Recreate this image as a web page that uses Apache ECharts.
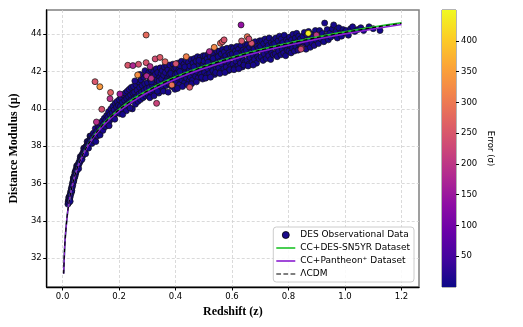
<!DOCTYPE html>
<html>
<head>
<meta charset="utf-8">
<script src="https://cdn.jsdelivr.net/npm/echarts@6/dist/echarts.min.js"></script>
<style>
  html, body { margin: 0; padding: 0; background: #fff; }
  #main { width: 523px; height: 327px; }
</style>
</head>
<body>
<div id="main"></div>
<script>
// DES points: [redshift z, distance modulus mu, error]
const desLowZ = [
  [0.019,34.9,5],[0.02,35.02,7],[0.021,35.1,4],[0.022,34.98,8],[0.022,35.25,6],[0.023,35.15,5],[0.024,35.3,9],
  [0.025,35.12,6],[0.026,35.38,4],[0.027,35.28,7],[0.027,35.05,5],[0.028,35.52,8],[0.029,35.42,6],[0.03,35.62,5],
  [0.031,35.72,9],[0.032,35.55,4],[0.033,35.85,7],[0.033,35.62,6],[0.034,35.78,5],[0.035,36.0,8],[0.036,35.9,6],
  [0.037,36.12,4],[0.038,36.05,7],[0.038,36.3,5],[0.039,36.25,9],[0.04,36.15,6],[0.041,36.38,5],[0.042,36.3,8],
  [0.043,36.48,4],[0.044,36.38,7],[0.044,36.62,6],[0.045,36.6,5],[0.046,36.5,9],[0.047,36.72,6],[0.048,36.62,4],
  [0.049,36.8,7],[0.05,36.7,5],[0.05,36.95,8],[0.052,36.92,6],[0.053,36.85,5],[0.055,37.02,9],[0.056,36.95,4],
  [0.057,36.8,7],[0.058,37.15,6],[0.06,37.1,5],[0.062,37.32,8],[0.063,37.45,6],[0.064,37.22,4],[0.066,37.42,7],
  [0.068,37.48,5],[0.069,37.3,9],[0.07,37.58,6],[0.072,37.5,5],[0.074,37.72,8],[0.075,37.9,6],[0.076,37.62,4],
  [0.078,37.88,7],[0.08,37.78,5],[0.082,37.6,9],[0.083,37.98,6],[0.085,38.02,5],[0.087,38.25,8],[0.088,38.12,6],
  [0.09,38.05,4],[0.092,37.9,7],[0.093,38.28,5],[0.095,38.2,9],[0.097,38.55,6],[0.098,38.42,5],[0.1,38.3,8]
];

const desBody = [
  [0.101,38.55,8],[0.104,38.15,5],[0.106,38.45,12],[0.109,38.7,6],[0.111,38.3,9],[0.114,38.6,4],[0.116,38.95,14],
  [0.118,38.25,7],[0.121,38.8,5],[0.123,38.55,10],[0.126,39.05,6],[0.128,38.7,8],[0.131,39.0,11],[0.133,38.6,5],
  [0.136,39.25,7],[0.138,38.95,9],[0.141,39.35,6],[0.143,38.85,12],[0.146,39.2,4],[0.148,39.5,8],
  [0.151,39.05,6],[0.153,39.4,9],[0.156,39.65,5],[0.158,39.2,10],[0.161,39.55,7],[0.163,39.85,4],[0.166,39.35,8],
  [0.168,39.7,6],[0.171,40.0,11],[0.173,39.5,5],[0.176,39.8,9],[0.178,40.15,7],[0.181,39.6,6],[0.183,39.95,12],
  [0.186,40.3,5],[0.188,39.75,8],[0.191,40.1,6],[0.193,40.4,9],[0.196,39.85,4],[0.198,40.2,7],[0.165,39.1,13],[0.185,39.45,10],
  [0.201,40.5,6],[0.203,39.75,8],[0.205,40.15,5],[0.208,40.6,10],[0.21,40.0,7],[0.212,40.35,4],[0.215,40.75,9],
  [0.217,40.1,6],[0.22,40.45,11],[0.222,40.85,5],[0.224,40.2,8],[0.227,40.55,6],[0.229,40.95,9],[0.231,40.3,7],
  [0.234,40.65,5],[0.236,41.05,12],[0.238,40.4,6],[0.241,40.75,8],[0.243,41.15,5],[0.245,40.5,9],[0.247,40.0,7],
  [0.249,40.85,6],[0.226,39.9,10],[0.213,39.7,8],[0.239,40.05,11],
  [0.251,41.2,7],[0.253,40.55,5],[0.255,40.9,9],[0.258,40.25,6],[0.26,41.3,8],[0.262,40.65,4],[0.264,41.0,10],
  [0.267,40.4,7],[0.269,41.45,6],[0.271,40.8,9],[0.273,41.15,5],[0.276,40.5,8],[0.278,41.55,6],[0.28,40.9,11],
  [0.282,41.25,7],[0.285,40.6,5],[0.287,41.7,9],[0.289,41.0,6],[0.291,41.35,8],[0.294,40.7,5],[0.296,41.8,10],
  [0.298,41.1,7],[0.256,41.5,12],[0.274,41.85,9],[0.292,42.05,11],
  [0.301,41.4,6],[0.303,40.75,8],[0.305,41.95,5],[0.308,41.15,9],[0.31,41.6,7],[0.312,40.9,4],[0.314,42.1,10],
  [0.317,41.3,6],[0.319,41.75,8],[0.321,41.0,5],[0.323,42.0,9],[0.326,41.45,7],[0.328,41.85,6],[0.33,41.1,11],
  [0.332,42.15,5],[0.335,41.55,8],[0.337,41.95,6],[0.339,41.2,9],[0.341,40.85,7],[0.344,41.7,5],[0.346,42.2,10],
  [0.348,41.35,6],[0.309,40.6,8],[0.324,40.7,12],[0.336,40.95,7],[0.315,41.45,5],[0.342,41.5,9],[0.349,41.9,7],
  [0.351,41.6,6],[0.353,42.05,8],[0.355,41.1,5],[0.358,41.8,9],[0.36,42.25,7],[0.362,41.4,4],[0.364,41.95,10],
  [0.367,41.25,6],[0.369,42.3,8],[0.371,41.65,5],[0.373,42.1,9],[0.376,41.35,7],[0.378,41.85,6],[0.38,42.35,11],
  [0.382,41.5,5],[0.385,42.0,8],[0.387,41.2,6],[0.389,41.75,9],[0.391,42.4,7],[0.394,41.6,5],[0.396,42.15,10],
  [0.398,41.05,6],[0.357,40.95,8],[0.374,40.9,9],[0.392,41.3,7],[0.366,41.5,5],[0.383,41.9,6],[0.399,41.85,8],
  [0.401,42.2,6],[0.403,41.45,8],[0.405,41.9,5],[0.408,42.45,9],[0.41,41.65,7],[0.412,42.1,4],[0.414,41.3,10],
  [0.417,42.3,6],[0.419,41.8,8],[0.421,42.55,5],[0.423,41.55,9],[0.426,42.05,7],[0.428,41.75,6],[0.43,42.4,11],
  [0.432,41.4,5],[0.435,41.95,8],[0.437,42.6,6],[0.439,41.65,9],[0.441,42.2,7],[0.444,41.85,5],[0.446,42.5,10],
  [0.448,41.5,6],[0.407,41.1,8],[0.425,41.2,9],[0.442,41.3,7],[0.415,42.0,6],[0.433,42.25,5],[0.449,42.1,8],
  [0.451,42.3,6],[0.453,41.7,8],[0.455,42.65,5],[0.458,42.05,9],[0.46,41.55,7],[0.462,42.45,4],[0.464,41.9,10],
  [0.467,42.7,6],[0.469,42.2,8],[0.471,41.75,5],[0.473,42.55,9],[0.476,42.0,7],[0.478,42.8,6],[0.48,41.65,11],
  [0.482,42.35,5],[0.485,42.1,8],[0.487,42.75,6],[0.489,41.85,9],[0.491,42.5,7],[0.494,42.2,5],[0.496,41.6,10],
  [0.498,42.85,6],[0.457,41.35,8],[0.474,41.45,9],[0.492,41.7,7],[0.465,42.25,6],[0.483,42.6,5],[0.499,42.4,8],
  [0.501,42.55,6],[0.503,41.95,8],[0.505,42.85,5],[0.508,42.3,9],[0.51,41.8,7],[0.512,42.7,4],[0.514,42.15,10],
  [0.517,42.95,6],[0.519,42.45,8],[0.521,41.9,5],[0.523,42.8,9],[0.526,42.25,7],[0.528,43.05,6],[0.53,42.6,11],
  [0.532,42.05,5],[0.535,42.9,8],[0.537,42.4,6],[0.539,41.85,9],[0.541,42.75,7],[0.544,42.2,5],[0.546,43.1,10],
  [0.548,42.55,6],[0.507,41.65,8],[0.524,41.7,9],[0.542,41.95,7],[0.515,42.5,6],[0.533,42.7,5],[0.549,42.35,8],
  [0.551,42.8,6],[0.553,42.2,8],[0.555,43.1,5],[0.558,42.55,9],[0.56,42.0,7],[0.562,42.95,4],[0.564,42.4,10],
  [0.567,43.2,6],[0.569,42.7,8],[0.571,42.15,5],[0.573,43.05,9],[0.576,42.5,7],[0.578,42.85,6],[0.58,42.25,11],
  [0.582,43.25,5],[0.585,42.65,8],[0.587,42.05,6],[0.589,43.0,9],[0.591,42.45,7],[0.594,42.9,5],[0.596,42.3,10],
  [0.598,43.3,6],[0.557,41.9,8],[0.575,41.95,9],[0.592,42.1,7],[0.566,42.6,6],
  [0.601,42.95,6],[0.603,42.4,8],[0.605,43.25,5],[0.608,42.75,9],[0.61,42.2,7],[0.612,43.1,4],[0.614,42.55,10],
  [0.617,43.35,6],[0.619,42.85,8],[0.621,42.3,5],[0.623,43.2,9],[0.626,42.65,7],[0.628,43.0,6],[0.63,42.45,11],
  [0.632,43.4,5],[0.635,42.8,8],[0.637,42.25,6],[0.639,43.15,9],[0.641,42.6,7],[0.644,43.05,5],[0.646,42.5,10],
  [0.648,43.45,6],[0.607,42.1,8],[0.624,42.15,9],[0.642,42.35,7],[0.616,42.95,6],
  [0.651,43.15,6],[0.653,42.6,8],[0.655,43.45,5],[0.658,42.9,9],[0.66,42.4,7],[0.662,43.3,4],[0.664,42.75,10],
  [0.667,43.55,6],[0.669,43.05,8],[0.671,42.5,5],[0.673,43.4,9],[0.676,42.85,7],[0.678,43.2,6],[0.68,42.65,11],
  [0.682,43.6,5],[0.685,43.0,8],[0.687,42.45,6],[0.689,43.35,9],[0.691,42.8,7],[0.694,43.25,5],[0.696,42.7,10],
  [0.698,43.65,6],[0.657,42.3,8],[0.675,42.35,9],
  [0.701,43.35,6],[0.703,42.8,8],[0.705,43.65,5],[0.708,43.1,9],[0.71,42.6,7],[0.712,43.5,4],[0.714,42.95,10],
  [0.717,43.75,6],[0.719,43.25,8],[0.721,42.7,5],[0.723,43.6,9],[0.726,43.05,7],[0.728,43.4,6],[0.73,42.85,11],
  [0.732,43.8,5],[0.735,43.2,8],[0.737,42.65,6],[0.739,43.55,9],[0.741,43.0,7],[0.744,43.45,5],[0.746,42.9,10],
  [0.748,43.7,6],
  [0.751,43.5,6],[0.753,42.95,8],[0.755,43.8,5],[0.758,43.25,9],[0.76,42.8,7],[0.763,43.65,4],[0.765,43.1,10],
  [0.768,43.9,6],[0.77,43.4,8],[0.773,42.9,5],[0.775,43.75,9],[0.778,43.2,7],[0.78,43.55,6],[0.783,43.0,11],
  [0.785,43.95,5],[0.788,43.35,8],[0.79,42.85,6],[0.793,43.7,9],[0.795,43.15,7],[0.798,43.6,5],
  [0.801,43.1,6],[0.804,43.85,8],[0.806,43.4,5],[0.809,43.0,9],[0.811,43.7,7],[0.814,43.25,4],[0.816,44.0,10],
  [0.819,43.55,6],[0.821,43.1,8],[0.824,43.8,5],[0.826,43.35,9],[0.829,44.05,7],[0.831,43.6,6],[0.834,43.15,11],
  [0.836,43.9,5],[0.839,43.45,8],[0.842,43.75,6],[0.846,43.3,9],
  [0.851,43.9,6],[0.853,43.35,8],[0.856,44.1,5],[0.859,43.6,9],[0.862,43.2,7],[0.865,43.95,4],[0.868,43.5,10],
  [0.871,44.15,6],[0.874,43.75,8],[0.877,43.3,5],[0.88,44.0,9],[0.883,43.55,7],[0.887,43.85,6],[0.891,43.4,11],
  [0.895,44.2,5],[0.898,43.7,8],
  [0.902,43.95,6],[0.906,43.5,8],[0.91,44.2,5],[0.915,43.75,9],[0.92,44.05,7],[0.925,43.6,4],[0.928,44.6,10],
  [0.932,43.9,6],[0.937,44.25,8],[0.941,43.7,5],[0.946,44.05,9],[0.95,43.85,7],
  [0.955,44.3,6],[0.96,44.5,8],[0.964,43.95,5],[0.968,44.15,9],[0.973,43.8,7],[0.978,44.35,4],[0.983,44.05,10],
  [0.988,43.9,6],[0.993,44.25,8],[0.998,44.1,5],
  [1.004,44.2,6],[1.012,43.95,8],[1.02,44.3,5],[1.027,44.4,9],[1.035,44.15,7],[1.045,44.25,4],[1.056,44.35,10],
  [1.066,44.2,6],[1.085,44.4,8],[1.1,44.3,5],[1.124,44.2,7]
];

// high-error points (coloured)
const desOutliers = [
  [0.296,43.96,280],[0.632,44.5,140],[0.115,41.46,250],[0.132,41.19,340],[0.139,39.98,240],[0.12,39.3,190],
  [0.17,40.88,265],[0.168,40.55,190],[0.203,40.8,150],[0.231,42.34,250],[0.249,42.32,175],[0.269,42.39,240],
  [0.266,41.82,330],[0.296,42.48,245],[0.328,42.68,235],[0.345,42.76,255],[0.363,42.53,270],[0.31,42.27,185],
  [0.298,41.77,180],[0.314,41.64,190],[0.333,40.3,220],[0.387,41.28,290],[0.401,42.42,240],[0.438,42.8,310],
  [0.45,41.16,250],[0.559,43.52,275],[0.566,43.6,255],[0.572,43.7,245],[0.52,43.07,175],[0.654,43.87,290],
  [0.669,43.52,245],[0.66,43.75,235],[0.537,43.3,320],[0.846,43.25,235],[0.844,43.2,230],[0.899,43.96,200],
  [0.634,43.64,250],[0.87,44.05,440]
];

// model curves
const lineZ = [0.004,0.007,0.01,0.015,0.02,0.03,0.04,0.05,0.06,0.08,0.1,0.12,0.15,0.2,0.25,0.3,0.4,0.5,0.6,0.7,0.8,0.9,1.0,1.1,1.2];
const muDES5YR = [31.18,32.40,33.18,34.06,34.70,35.59,36.24,36.74,37.15,37.81,38.33,38.75,39.29,39.98,40.53,40.99,41.72,42.29,42.77,43.18,43.53,43.85,44.13,44.39,44.62];
const muPantheon = [31.17,32.39,33.17,34.05,34.69,35.57,36.22,36.71,37.12,37.77,38.27,38.68,39.20,39.88,40.41,40.87,41.59,42.16,42.64,43.06,43.41,43.73,44.02,44.28,44.52];
const muLCDM = [31.18,32.40,33.18,34.06,34.70,35.59,36.24,36.74,37.15,37.81,38.32,38.74,39.27,39.96,40.50,40.96,41.69,42.26,42.74,43.15,43.50,43.82,44.10,44.36,44.59];

const xTicks = [0, 0.2, 0.4, 0.6, 0.8, 1.0, 1.2];
const yTicks = [32, 34, 36, 38, 40, 42, 44];
const cbarTicks = [50, 100, 150, 200, 250, 300, 350, 400];
const errMin = 0, errMax = 450;

const plasma = ['#0d0887','#41049d','#6a00a8','#8f0da4','#b12a90','#cc4778','#e16462','#f2844b','#fca636','#fcce25','#f0f921'];

const pair = (zs, mus) => zs.map((z, i) => [z, mus[i]]);

const tickFont = { fontFamily: 'DejaVu Sans', fontSize: 8.5, color: '#000' };
const labelFont = { fontFamily: 'Liberation Serif', fontWeight: 'bold', fontSize: 12, color: '#000' };
const gridLine = { show: true, lineStyle: { color: '#d0d0d0', type: [3, 2], width: 0.8 } };

// legend icons: short solid / dashed strokes
const solidIcon = 'path://M0,0H20V1.7H0Z';
const dashIcon = 'path://M0,0H5V1.3H0Z M7.5,0H12.5V1.3H7.5Z M15,0H20V1.3H15Z';

const chart = echarts.init(document.getElementById('main'), null, { renderer: 'canvas' });

chart.setOption({
  animation: false,
  backgroundColor: '#fff',
  grid: [
    { left: 42, right: 104, top: 10, bottom: 40, show: true, borderColor: '#808080', borderWidth: 1.5 },
    { left: 442, width: 14, top: 10, bottom: 40, show: true, borderColor: '#444', borderWidth: 0.8 }
  ],
  xAxis: [
    {
      gridIndex: 0, type: 'value', min: -0.056, max: 1.262, minInterval: 0.2, maxInterval: 0.2,
      name: 'Redshift (z)', nameLocation: 'middle', nameGap: 17, nameTextStyle: labelFont,
      axisLine: { show: true, onZero: false, lineStyle: { color: '#000', width: 1.3 } },
      axisTick: { show: true, length: 3.5, customValues: xTicks, lineStyle: { color: '#000' } },
      axisLabel: Object.assign({ margin: 5, customValues: xTicks, formatter: v => v.toFixed(1) }, tickFont),
      splitLine: gridLine
    },
    { gridIndex: 1, type: 'category', data: ['err'], show: false }
  ],
  yAxis: [
    {
      gridIndex: 0, type: 'value', min: 30.46, max: 45.3, minInterval: 2, maxInterval: 2,
      name: 'Distance Modulus (\u03bc)', nameLocation: 'middle', nameGap: 24, nameTextStyle: labelFont,
      axisLine: { show: true, onZero: false, lineStyle: { color: '#000', width: 1.3 } },
      axisTick: { show: true, length: 3.5, customValues: yTicks, lineStyle: { color: '#000' } },
      axisLabel: Object.assign({ margin: 5, customValues: yTicks }, tickFont),
      splitLine: gridLine
    },
    {
      gridIndex: 1, type: 'value', position: 'right', min: errMin, max: errMax, minInterval: 50, maxInterval: 50,
      name: 'Error (\u03c3)', nameLocation: 'middle', nameGap: 30, nameRotate: -90,
      nameTextStyle: { fontFamily: 'DejaVu Sans', fontSize: 8.5, color: '#000' },
      axisLine: { show: false },
      axisTick: { show: true, length: 3, customValues: cbarTicks, lineStyle: { color: '#000' } },
      axisLabel: Object.assign({ margin: 5, customValues: cbarTicks }, tickFont),
      splitLine: { show: false }
    }
  ],
  visualMap: {
    show: false, type: 'continuous', seriesIndex: 0, dimension: 2,
    min: errMin, max: errMax, inRange: { color: plasma }
  },
  legend: {
    data: [
      { name: 'DES Observational Data', icon: 'circle', itemStyle: { color: '#1a0a8c', borderColor: '#000', borderWidth: 0.8 } },
      { name: 'CC+DES-SN5YR Dataset', icon: solidIcon, itemStyle: { color: '#1fc22a', borderWidth: 0 } },
      { name: 'CC+Pantheon\u207a Dataset', icon: solidIcon, itemStyle: { color: '#8a1fd0', borderWidth: 0 } },
      { name: '\u039bCDM', icon: dashIcon, itemStyle: { color: '#000', borderWidth: 0 } }
    ],
    orient: 'vertical', right: 109, bottom: 45,
    itemWidth: 19, itemHeight: 7, itemGap: 3,
    padding: [3, 4, 3, 3],
    backgroundColor: 'rgba(255,255,255,0.85)', borderColor: '#cccccc', borderWidth: 1, borderRadius: 3,
    textStyle: { fontFamily: 'DejaVu Sans', fontSize: 9, color: '#000', lineHeight: 10 }
  },
  series: [
    {
      name: 'DES Observational Data', type: 'scatter', xAxisIndex: 0, yAxisIndex: 0,
      symbol: 'circle', symbolSize: 6,
      itemStyle: { color: '#1a0a8c', borderColor: '#111', borderWidth: 0.7, opacity: 1 },
      data: desLowZ.concat(desBody, desOutliers)
    },
    {
      name: 'CC+DES-SN5YR Dataset', type: 'line', xAxisIndex: 0, yAxisIndex: 0,
      data: pair(lineZ, muDES5YR), symbol: 'none', smooth: 0.3,
      lineStyle: { color: '#1fc22a', width: 1.6 }, itemStyle: { color: '#1fc22a' }
    },
    {
      name: 'CC+Pantheon\u207a Dataset', type: 'line', xAxisIndex: 0, yAxisIndex: 0,
      data: pair(lineZ, muPantheon), symbol: 'none', smooth: 0.3,
      lineStyle: { color: '#8a1fd0', width: 1.6 }, itemStyle: { color: '#8a1fd0' }
    },
    {
      name: '\u039bCDM', type: 'line', xAxisIndex: 0, yAxisIndex: 0,
      data: pair(lineZ, muLCDM), symbol: 'none', smooth: 0.3,
      lineStyle: { color: '#000', width: 1.1, type: [4, 3] }, itemStyle: { color: '#000' }
    },
    {
      name: 'colorbar', type: 'bar', xAxisIndex: 1, yAxisIndex: 1, silent: true,
      data: [errMax], barWidth: '100%',
      itemStyle: {
        color: new echarts.graphic.LinearGradient(0, 0, 0, 1,
          plasma.slice().reverse().map((c, i) => ({ offset: i / (plasma.length - 1), color: c })))
      }
    }
  ]
});
</script>
</body>
</html>
